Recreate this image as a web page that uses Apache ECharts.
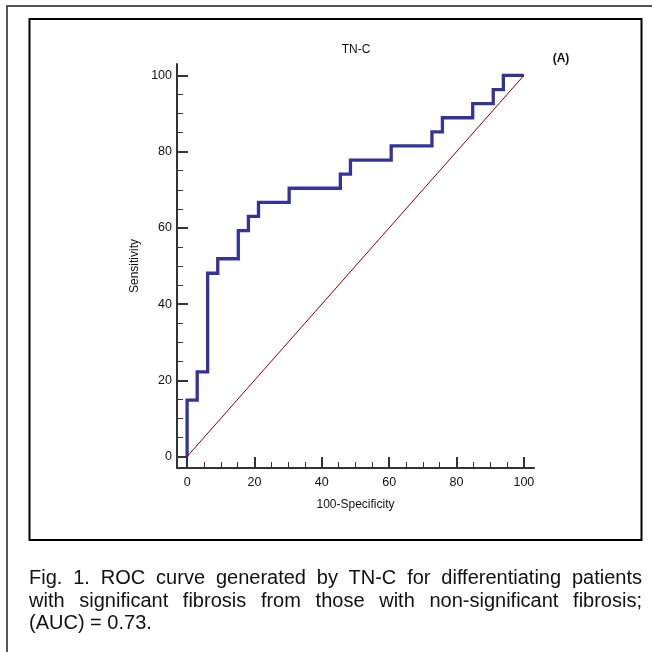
<!DOCTYPE html>
<html>
<head>
<meta charset="utf-8">
<script src="https://cdn.jsdelivr.net/npm/echarts@6/dist/echarts.min.js"></script>
<style>
  html, body { margin: 0; padding: 0; background: #fff; }
  #wrap { position: relative; width: 652px; height: 652px; overflow: hidden; }
  #chart { position: absolute; left: 0; top: 0; width: 652px; height: 652px; }
  #caption {
    position: absolute; left: 29px; top: 566px; width: 613px;
    font-family: "Liberation Sans", Arial, sans-serif;
    font-size: 20px; line-height: 22.5px; color: #111;
  }
  #caption .j { text-align: justify; text-align-last: justify; white-space: nowrap; }
</style>
</head>
<body>
<div id="wrap">
  <div id="chart"></div>
  <div id="caption">
    <div class="j">Fig. 1. ROC curve generated by TN-C for differentiating patients</div>
    <div class="j">with significant fibrosis from those with non-significant fibrosis;</div>
    <div>(AUC) = 0.73.</div>
  </div>
</div>
<script>
// ROC curve corners (100-specificity, sensitivity)
var rocX = [0, 3.0, 6.1, 9.1, 15.2, 18.2, 21.2, 30.3, 45.5, 48.5, 60.6, 72.7, 75.8, 84.8, 90.9, 93.9, 100]
var rocY = [0, 14.8, 22.2, 48.1, 51.9, 59.3, 63.0, 66.7, 70.4, 74.1, 77.8, 81.5, 85.2, 88.9, 92.6, 96.3, 100]
// reference diagonal
var diagX = [0, 100]
var diagY = [0, 100]
// tick values
var majorTicks = [0, 20, 40, 60, 80, 100]
var minorTicks = [5, 10, 15, 25, 30, 35, 45, 50, 55, 65, 70, 75, 85, 90, 95]

var axisColor = '#333'
var font = '"Liberation Sans", Arial, sans-serif'

function pairs(xs, ys) {
  return xs.map(function(x, i) { return [x, ys[i]] })
}

function majorAxis(name, gap, labelMargin) {
  return {
    type: 'value',
    min: -3,
    max: 103,
    name: name,
    nameLocation: 'middle',
    nameGap: gap,
    nameTextStyle: { fontFamily: font, fontSize: 12, color: '#111' },
    axisLine: { show: true, onZero: false, lineStyle: { color: axisColor, width: 2 } },
    axisTick: {
      show: true,
      inside: true,
      length: 11,
      customValues: majorTicks,
      lineStyle: { color: axisColor, width: 2 }
    },
    axisLabel: {
      customValues: majorTicks,
      fontFamily: font,
      fontSize: 12.5,
      color: '#111',
      margin: labelMargin
    },
    splitLine: { show: false }
  }
}

function minorAxis() {
  return {
    type: 'value',
    min: -3,
    max: 103,
    axisLine: { show: false, onZero: false },
    axisTick: {
      show: true,
      inside: true,
      length: 6,
      customValues: minorTicks,
      lineStyle: { color: axisColor, width: 1 }
    },
    axisLabel: { show: false },
    splitLine: { show: false }
  }
}

var chart = echarts.init(document.getElementById('chart'))

var xMajor = majorAxis('100-Specificity', 31, 8)
xMajor.position = 'bottom'
var xMinor = minorAxis()
xMinor.position = 'bottom'
var yMajor = majorAxis('Sensitivity', 36, 5)
yMajor.position = 'left'
var yMinor = minorAxis()
yMinor.position = 'left'

chart.setOption({
  animation: false,
  backgroundColor: '#fff',
  grid: { left: 177, top: 64, width: 357, height: 404, containLabel: false },
  xAxis: [xMajor, xMinor],
  yAxis: [yMajor, yMinor],
  graphic: [
    {
      type: 'rect',
      shape: { x: 7, y: 6, width: 700, height: 700 },
      style: { fill: null, stroke: '#555', lineWidth: 2 },
      silent: true
    },
    {
      type: 'rect',
      shape: { x: 29.5, y: 19, width: 612, height: 521 },
      style: { fill: null, stroke: '#000', lineWidth: 2 },
      silent: true
    },
    {
      type: 'text',
      x: 356,
      y: 50,
      style: { text: 'TN-C', fontFamily: font, fontSize: 12, fill: '#111', textAlign: 'center', textVerticalAlign: 'middle' }
    },
    {
      type: 'text',
      x: 561,
      y: 59,
      style: { text: '(A)', fontFamily: font, fontSize: 12, fontWeight: 'bold', fill: '#111', textAlign: 'center', textVerticalAlign: 'middle' }
    }
  ],
  series: [
    {
      type: 'line',
      xAxisIndex: 0,
      yAxisIndex: 0,
      step: 'start',
      symbol: 'none',
      data: pairs(rocX, rocY),
      lineStyle: { color: '#333399', width: 3.3, join: 'miter' }
    },
    {
      type: 'line',
      xAxisIndex: 0,
      yAxisIndex: 0,
      symbol: 'none',
      data: pairs(diagX, diagY),
      lineStyle: { color: '#8b0000', width: 1 }
    }
  ]
})
</script>
</body>
</html>
